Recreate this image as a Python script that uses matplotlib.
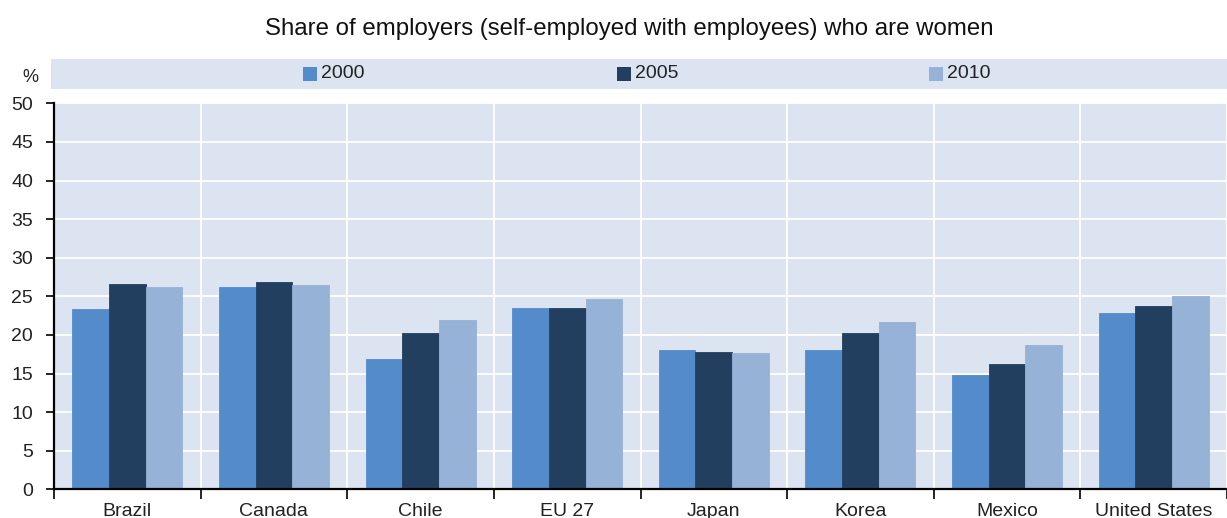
import matplotlib
matplotlib.use("Agg")
import matplotlib.pyplot as plt
import numpy as np
from matplotlib.patches import Rectangle

plt.rcParams['font.family'] = ['Liberation Sans', 'DejaVu Sans']

categories = ["Brazil", "Canada", "Chile", "EU 27", "Japan", "Korea", "Mexico", "United States"]
years = ["2000", "2005", "2010"]
v2000 = [23.3, 26.2, 16.9, 23.5, 18.0, 18.0, 14.8, 22.8]
v2005 = [26.6, 26.9, 20.2, 23.5, 17.8, 20.2, 16.2, 23.7]
v2010 = [26.2, 26.4, 21.9, 24.6, 17.7, 21.7, 18.7, 25.1]
yticks = [0, 5, 10, 15, 20, 25, 30, 35, 40, 45, 50]

colors = ["#548ccb", "#233f5f", "#96b2d7"]
bg = "#dde4f1"

W, H = 1227, 518
fig = plt.figure(figsize=(W / 100, H / 100), dpi=100)
ax = fig.add_axes([54 / W, 1 - 489.3 / H, 1 - 54 / W, (489.3 - 103.3) / H])
ax.set_facecolor(bg)

x = np.arange(len(categories))
bw = 0.25
series = [v2000, v2005, v2010]
for i, (vals, c) in enumerate(zip(series, colors)):
    ax.bar(x + (i - 1) * bw, vals, bw, color=c, edgecolor=c, linewidth=0.6, zorder=3)

ax.set_xlim(-0.5, len(categories) - 0.5)
ax.set_ylim(0, 50)
ax.set_yticks(yticks)
ax.set_xticks(x)
ax.set_xticklabels(categories)
ax.set_xticks(np.arange(len(categories) + 1) - 0.5, minor=True)
ax.tick_params(axis='x', which='major', length=0, pad=10, labelsize=14, colors='#222222')
ax.tick_params(axis='x', which='minor', length=7, width=1.2, color='black', direction='out')
ax.tick_params(axis='y', length=6, width=1.2, pad=9, labelsize=14, colors='#222222')
ax.tick_params(axis='y', color='black')

ax.grid(axis='y', color='white', linewidth=1.3, zorder=1)
ax.grid(axis='x', which='minor', color='white', linewidth=1.3, zorder=1)
ax.grid(axis='x', which='major', visible=False)

for s in ['top', 'right']:
    ax.spines[s].set_visible(False)
ax.spines['left'].set_linewidth(1.6)
ax.spines['bottom'].set_linewidth(1.6)
ax.spines['left'].set_zorder(4)
ax.spines['bottom'].set_zorder(4)

# legend band
fig.patches.append(Rectangle((51 / W, 1 - 89 / H), 1 - 51 / W, 30 / H,
                             transform=fig.transFigure, facecolor=bg, edgecolor='none', zorder=0))
leg_x = [303, 617, 929]
for lx, c, lab in zip(leg_x, colors, years):
    fig.patches.append(Rectangle((lx / W, 1 - 81 / H), 14 / W, 14 / H,
                                 transform=fig.transFigure, facecolor=c, edgecolor='none', zorder=1))
    fig.text((lx + 18) / W, 1 - 74 / H, lab, fontsize=14, va='center', ha='left', color='#222222')

fig.text(22 / W, 1 - 78 / H, "%", fontsize=13, ha='left', va='center', color='#222222')
fig.text(629 / W, 1 - 29 / H, "Share of employers (self-employed with employees) who are women",
         fontsize=17.3, ha='center', va='center', color='#111111')

fig.savefig("out.png", dpi=100)
